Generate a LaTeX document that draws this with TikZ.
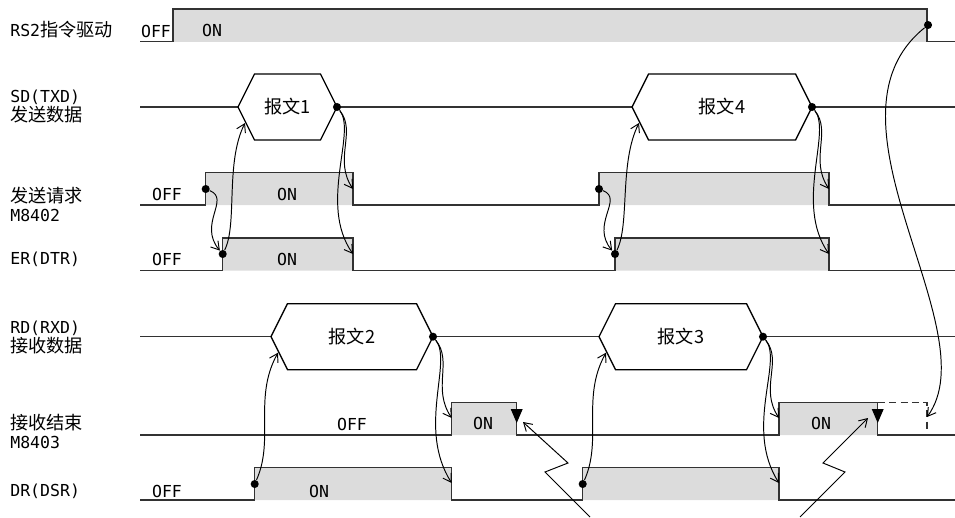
\documentclass[tikz,border=0pt]{standalone}
\usepackage{fontspec}
\setmainfont{DejaVu Sans Mono}
\newfontfamily\cjk{Noto Sans CJK SC}[Scale=1.1]
\usepackage{xcolor}
\usepackage{tikz}
\usetikzlibrary{arrows.meta}
\definecolor{onfill}{RGB}{220,220,220}
\definecolor{wavecol}{RGB}{50,50,50}
\def\lblfont{\fontsize{9.4}{10.8}\selectfont}

\begin{document}
\begin{tikzpicture}[x=0.02cm, y=-0.02cm, >={Straight Barb[length=4.5pt,width=5.5pt]},
    wave/.style={draw=wavecol, line width=0.75pt},
    hi/.style={fill=onfill},
    lbl/.style={anchor=west, align=left, inner sep=0pt, font=\lblfont},
    txt/.style={inner sep=0pt, font=\lblfont},
    flow/.style={->, line width=0.55pt},
    dot/.style={circle, fill, inner sep=0pt, minimum size=4.6pt}]
    \useasboundingbox (0,0) rectangle (955,517);

    % signal names
    \node[lbl] (nRS) at (10,30) {RS2{\cjk 指令驱动}};
    \node[lbl] (nSD) at (10,106) {SD(TXD)\\{\cjk 发送数据}};
    \node[lbl] (nREQ) at (10,204) {{\cjk 发送请求}\\M8402};
    \node[lbl] (nER) at (10,259) {ER(DTR)};
    \node[lbl] (nRD) at (10,337) {RD(RXD)\\{\cjk 接收数据}};
    \node[lbl] (nEND) at (10,431) {{\cjk 接收结束}\\M8403};
    \node[lbl] (nDR) at (10,491) {DR(DSR)};

    % waveforms
    \fill[hi] (173,9) rectangle (927,41.7);
    \draw[wave] (140,41.7) -| (173,9) -| (927,41.7) -- (955,41.7);
    \draw[wave] (140,107) -- (955,107);
    \fill[hi] (205.7,172.5) rectangle (353,205) (599,172.5) rectangle (829,205);
    \draw[wave] (140,205) -| (205.7,172.5) -| (353,205) -| (599,172.5) -| (829,205) -- (955,205);
    \fill[hi] (222.7,238) rectangle (353,270.7) (615,238) rectangle (829,270.7);
    \draw[wave] (140,270.7) -| (222.7,238) -| (353,270.7) -| (615,238) -| (829,270.7) -- (955,270.7);
    \draw[wave] (140,336.7) -- (955,336.7);
    \fill[hi] (451.7,402.3) rectangle (516.7,435) (779,402.3) rectangle (877.7,435);
    \draw[wave] (140,435) -| (451.7,402.3) -| (516.7,435) -| (779,402.3) -| (877.7,435) -- (955,435);
    \draw[wave, dash pattern=on 4pt off 2.5pt] (877.7,402.3) -| (927,430);
    \fill[hi] (254.7,467.7) rectangle (451.7,500) (582.7,467.7) rectangle (779,500);
    \draw[wave] (140,500) -| (254.7,467.7) -| (451.7,500) -| (582.7,467.7) -| (779,500) -- (955,500);

    % messages
    \foreach \n/\l/\r/\y in {1/238/337/107, 4/632/812/107, 2/271/433/336.7, 3/599/763/336.7} {
        \draw[line width=0.75pt, fill=white] (\l,\y) -- (\l+16.5,\y-33) -- (\r-16.5,\y-33)
            -- (\r,\y) -- (\r-16.5,\y+33) -- (\l+16.5,\y+33) -- cycle;
        \node[txt] (m\n) at ({(\l+\r)/2},\y) {{\cjk 报文\n}};
        \node[dot] (b\n) at (\r,\y) {};
        \coordinate (a\n) at (\l+7,\y+16);
    }

    % states
    \node[txt] (rsOff) at (156,31) {OFF};
    \node[txt] (rsOn) at (212,30.5) {ON};
    \node[txt] (reqOffTxt) at (167,194) {OFF};
    \node[txt] (reqOnTxt) at (287,194) {ON};
    \node[txt] (erOffTxt) at (167,259) {OFF};
    \node[txt] (erOnTxt) at (287,259) {ON};
    \node[txt] (endOffTxt) at (352,424) {OFF};
    \node[txt] (endOnTxt1) at (483,423.5) {ON};
    \node[txt] (endOnTxt2) at (821,423.5) {ON};
    \node[txt] (drOffTxt) at (167,491) {OFF};
    \node[txt] (drOnTxt) at (319,491) {ON};

    % edges
    \node[dot] (rsEnd) at (928,25) {};
    \node[dot] (reqOn1) at (205.7,189) {};
    \node[dot] (reqOn2) at (599,189) {};
    \node[dot] (erOn1) at (222.7,254) {};
    \node[dot] (erOn2) at (615,254) {};
    \node[dot] (drOn1) at (254.7,484) {};
    \node[dot] (drOn2) at (582.7,484) {};
    \coordinate (reqOff1) at (353,189);
    \coordinate (reqOff2) at (829,189);
    \coordinate (erOff1) at (353,254);
    \coordinate (erOff2) at (829,254);
    \coordinate (endOn1) at (451.7,418);
    \coordinate (endOn2) at (779,418);
    \coordinate (drOff1) at (451.7,483);
    \coordinate (drOff2) at (779,483);
    \coordinate (endX) at (927,417);
    \coordinate (z1) at (590,517);
    \coordinate (z2) at (800,517);
    \coordinate (t1) at (523,422);
    \coordinate (t2) at (868,418);

    \foreach \k/\m in {1/1, 2/4} {
        \draw[flow] (reqOn\k) .. controls +(25,10) and +(-25,-30) .. (erOn\k);
        \draw[flow] (erOn\k) .. controls +(15,-30) and +(-20,40) .. (a\m);
        \draw[flow] (b\m) .. controls +(20,25) and +(-20,-30) .. (reqOff\k);
        \draw[flow] (b\m) .. controls +(20,25) and +(-35,-50) .. (erOff\k);
    }
    \foreach \k/\m in {1/2, 2/3} {
        \draw[flow] (drOn\k) .. controls +(20,-45) and +(-25,45) .. (a\m);
        \draw[flow] (b\m) .. controls +(20,25) and +(-20,-30) .. (endOn\k);
        \draw[flow] (b\m) .. controls +(20,25) and +(-35,-55) .. (drOff\k);
    }
    \draw[flow] (rsEnd) .. controls (810,120) and (990,330) .. (endX);

    % end of reception
    \foreach \x in {516.7,877.7}
        \fill (\x-6,409) -- (\x+6,409) -- (\x,423) -- cycle;
    \draw[flow] (z1) -- ++(-45,-45) -- ++(23,-9) -- (t1);
    \draw[flow] (z2) -- ++(45,-45) -- ++(-22,-9) -- (t2);
\end{tikzpicture}
\end{document}
